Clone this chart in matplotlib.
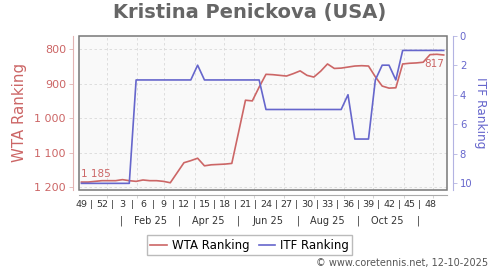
import pandas as pd
import matplotlib
matplotlib.use('Agg')
import matplotlib.pyplot as plt
import matplotlib.dates as mdates
from matplotlib.patches import Rectangle
from matplotlib.ticker import FuncFormatter, NullFormatter

# ======================
# data
# ======================
start_date = '2024-12-06'   # week 49 of 2024, one point per week
wta_rank = [1185, 1185, 1183, 1181, 1181, 1181, 1178, 1181, 1183, 1179,
            1181, 1181, 1183, 1187, 1158, 1129, 1123, 1116, 1138, 1135,
            1134, 1133, 1131, 1040, 948, 950, 910, 873, 874, 876,
            878, 871, 863, 876, 881, 864, 843, 856, 855, 852,
            849, 848, 849, 880, 907, 913, 912, 843, 841, 840,
            838, 816, 815, 817]
itf_rank = [10, 10, 10, 10, 10, 10, 10, 10, 3, 3,
            3, 3, 3, 3, 3, 3, 3, 2, 3, 3,
            3, 3, 3, 3, 3, 3, 3, 5, 5, 5,
            5, 5, 5, 5, 5, 5, 5, 5, 5, 4,
            7, 7, 7, 3, 2, 2, 3, 1, 1, 1,
            1, 1, 1, 1]
week_labels = ['49', '52', '3', '6', '9', '12', '15', '18', '21',
               '24', '27', '30', '33', '36', '39', '42', '45', '48']
month_labels = ['Feb 25', 'Apr 25', 'Jun 25', 'Aug 25', 'Oct 25']
month_label_dates = ['2025-02-15', '2025-04-15', '2025-06-15', '2025-08-15', '2025-10-15']
month_sep_dates = ['2025-01-16', '2025-03-16', '2025-05-16', '2025-07-16', '2025-09-16', '2025-11-16']

dates = pd.date_range(start_date, periods=len(wta_rank), freq='7D')

# ======================
# style
# ======================
red = '#cc6666'
blue = '#6666cc'
txt = '#333333'


def fmt_num(v, pos=None):
    return f'{v:,.0f}'.replace(',', ' ')


fig = plt.figure(figsize=(5, 2.7), dpi=100)
ax = fig.add_axes([0.157, 0.2963, 0.7376, 0.5717])
ax.set_facecolor('#f9f9f9')

ax.plot(dates, wta_rank, color=red, lw=1.2, label='WTA Ranking', zorder=3)
ax.set_ylim(1208, 761)
ax.set_yticks([800, 900, 1000, 1100, 1200])
ax.yaxis.set_major_formatter(FuncFormatter(fmt_num))
ax.set_xlim(dates[0] - pd.Timedelta(days=3), dates[-1] + pd.Timedelta(days=3.7))

ax.xaxis.set_major_locator(mdates.MonthLocator())
ax.xaxis.set_major_formatter(NullFormatter())
ax.grid(True, color='#d9d9d9', linestyle=(0, (3, 3)), lw=0.6, zorder=0)

for s in ['top', 'right']:
    ax.spines[s].set_visible(False)
ax.spines['left'].set_position(('outward', 4))
ax.spines['left'].set_color('#e2b3b3')
ax.spines['bottom'].set_position(('outward', 3.6))
ax.spines['bottom'].set_color('#aaaaaa')
ax.tick_params(axis='y', colors=red, labelsize=8, length=3, width=0.6,
               labelcolor=red, pad=2)
ax.tick_params(axis='y', color='#e2b3b3')
ax.tick_params(axis='x', length=2, color='#cccccc', width=0.6)
ax.set_ylabel('WTA Ranking', color=red, fontsize=10.8, va='center')
ax.yaxis.set_label_coords(-0.159, 0.5)

ax2 = ax.twinx()
ax2.plot(dates, itf_rank, color=blue, lw=1.2, label='ITF Ranking', zorder=3)
ax2.set_ylim(10.45, 0.0)
ax2.set_yticks([0, 2, 4, 6, 8, 10])
for s in ['top', 'left', 'bottom']:
    ax2.spines[s].set_visible(False)
ax2.spines['right'].set_position(('outward', 4))
ax2.spines['right'].set_color('#b3b3e2')
ax2.tick_params(axis='y', color='#b3b3e2', labelcolor=blue, labelsize=7.2,
                length=3, width=0.6, pad=2)
ax2.set_ylabel('ITF Ranking', color=blue, fontsize=8.8, rotation=270, va='center')
ax2.yaxis.set_label_coords(1.089, 0.5)

# frame round the plot area
ax2.add_patch(Rectangle((0, 0), 1, 1, transform=ax.transAxes, fill=False,
                        edgecolor='#777777', lw=1.1, clip_on=False, zorder=5))

# first / last value labels
ax.annotate(fmt_num(wta_rank[0]), (dates[0], wta_rank[0]), xytext=(0, 6),
            textcoords='offset points', ha='left', va='center', color=red, fontsize=7.5)
ax.annotate(fmt_num(wta_rank[-1]), (dates[-1], wta_rank[-1]), xytext=(0, -6.8),
            textcoords='offset points', ha='right', va='center', color=red, fontsize=7.5)

# week row and month row under the axis
xt = ax.get_xaxis_transform()
week_pos = dates[::3]
for d, lab in zip(week_pos, week_labels):
    ax.text(d, -0.097, lab, transform=xt, ha='center', va='center', fontsize=6.8, color=txt)
for d in week_pos[:-1]:
    ax.text(d + pd.Timedelta(days=10.5), -0.097, '|', transform=xt, ha='center',
            va='center', fontsize=6.8, color=txt)
for d, lab in zip(pd.to_datetime(month_label_dates), month_labels):
    ax.text(d, -0.199, lab, transform=xt, ha='center', va='center', fontsize=7, color=txt)
for d in pd.to_datetime(month_sep_dates):
    ax.text(d, -0.199, '|', transform=xt, ha='center', va='center', fontsize=7, color=txt)

# title, legend, source
fig.text(0.5, 0.955, 'Kristina Penickova (USA)', ha='center', va='center',
         fontsize=14, fontweight='bold', color='#666666')
h1, l1 = ax.get_legend_handles_labels()
h2, l2 = ax2.get_legend_handles_labels()
fig.legend(h1 + h2, l1 + l2, loc='center', bbox_to_anchor=(0.499, 0.091), ncol=2,
           fontsize=8.5, frameon=True, fancybox=False, edgecolor='#aaaaaa',
           borderpad=0.3, handlelength=1.4, handletextpad=0.4, columnspacing=0.8)
fig.text(0.976, 0.026, '\u00a9 www.coretennis.net, 12-10-2025', ha='right', va='center',
         fontsize=7, color='#555555')

fig.savefig('out.png', dpi=100)
